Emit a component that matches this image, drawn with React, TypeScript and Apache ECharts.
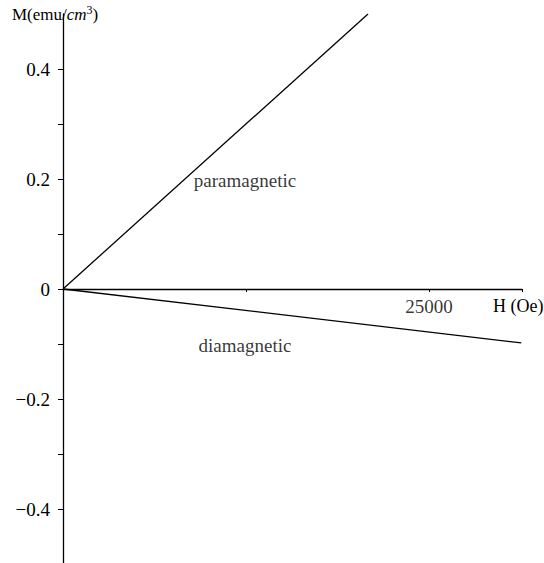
import React, { useEffect, useRef } from "react";
import * as echarts from "echarts";

const paraH = [0, 20833];
const paraM = [0, 0.5];
const diaH = [0, 31300];
const diaM = [0, -0.098];
const xTickLabels = [25000];
const yTickLabels = [-0.4, -0.2, 0, 0.2, 0.4];
const annotations = [
  { text: "paramagnetic", h: 12430, m: 0.198 },
  { text: "diamagnetic", h: 12430, m: -0.102 },
];

const FONT = "'Liberation Serif', 'Times New Roman', serif";
const FS = 19;

export default function App() {
  const ref = useRef<HTMLDivElement>(null);
  useEffect(() => {
    const chart = echarts.init(ref.current!, null, { renderer: "svg" });
    const fmtY = (v: number) => {
      const r = Math.round(v * 10) / 10;
      const hit = yTickLabels.find((t) => Math.abs(t - r) < 1e-9);
      if (hit === undefined) return "";
      if (hit === 0) return "0";
      return hit < 0 ? "\u2212" + Math.abs(hit).toFixed(1) : hit.toFixed(1);
    };
    chart.setOption({
      animation: false,
      backgroundColor: "#fff",
      grid: { left: 63, top: 14, width: 459, height: 550, outerBoundsMode: "none", containLabel: false },
      xAxis: {
        type: "value",
        min: 0,
        max: 31350,
        interval: 12500,
        splitLine: { show: false },
        axisLine: { onZero: true, lineStyle: { color: "#000", width: 1.3 } },
        axisTick: { show: true, length: 3, lineStyle: { color: "#000" } },
        axisLabel: { show: false },
        name: "H (Oe)",
        nameLocation: "end",
        nameGap: 0,
        nameTextStyle: {
          color: "#000",
          fontFamily: FONT,
          fontSize: 18,
          align: "left",
          verticalAlign: "top",
          padding: [8, 0, 0, -29],
        },
      },
      yAxis: {
        type: "value",
        min: -0.5,
        max: 0.5,
        interval: 0.1,
        splitLine: { show: false },
        axisLine: { onZero: true, lineStyle: { color: "#000", width: 1.3 } },
        axisTick: { show: true, length: 5, lineStyle: { color: "#000" } },
        axisLabel: {
          color: "#000",
          fontFamily: FONT,
          fontSize: FS,
          margin: 13,
          showMinLabel: false,
          showMaxLabel: false,
          formatter: fmtY,
        },
      },
      graphic: [
        {
          type: "text",
          left: 12,
          top: 4,
          style: {
            rich: {
              n: { fontFamily: FONT, fontSize: 17, fill: "#000" },
              i: { fontFamily: FONT, fontSize: 17, fontStyle: "italic", fill: "#000" },
              s: { fontFamily: FONT, fontSize: 12, fill: "#000", verticalAlign: "top", padding: [0, 0, 8, 0] },
            },
            text: "{n|M(emu/}{i|cm}{s|3}{n|)}",
          },
        },
      ],
      series: [
        {
          type: "line",
          data: paraH.map((h, i) => [h, paraM[i]]),
          symbol: "none",
          lineStyle: { color: "#000", width: 1.3 },
        },
        {
          type: "line",
          data: diaH.map((h, i) => [h, diaM[i]]),
          symbol: "none",
          lineStyle: { color: "#000", width: 1.3 },
        },
        {
          type: "scatter",
          symbolSize: 0,
          data: annotations.map((a) => ({ value: [a.h, a.m], name: a.text })),
          label: {
            show: true,
            position: "inside",
            formatter: (p: any) => p.name,
            color: "#000",
            fontFamily: FONT,
            fontSize: FS,
          },
        },
        {
          type: "scatter",
          symbolSize: 0,
          data: xTickLabels.map((v) => ({ value: [v, 0], name: String(v) })),
          label: {
            show: true,
            position: "bottom",
            distance: 8,
            formatter: (p: any) => p.name,
            color: "#000",
            fontFamily: FONT,
            fontSize: FS,
          },
        },
      ],
    });
    return () => chart.dispose();
  }, []);
  return <div ref={ref} style={{ width: 544, height: 563, position: "absolute", left: 0, top: 0 }} />;
}
